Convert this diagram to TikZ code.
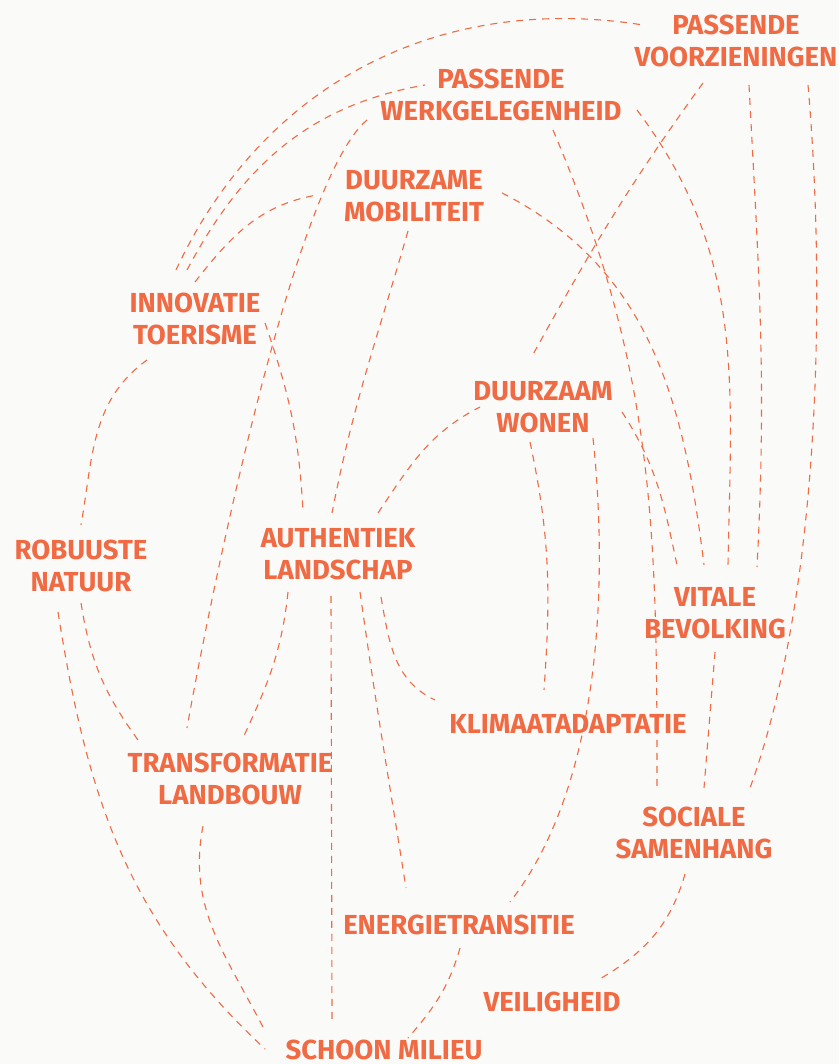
\documentclass[tikz,border=0pt]{standalone}
\usepackage{fontspec}
\setmainfont{Fira Sans}
\usetikzlibrary{backgrounds}
\definecolor{oranje}{RGB}{240,106,68}
\definecolor{papier}{RGB}{250,250,248}
\tikzstyle{thema} = [text=oranje, font=\fontsize{27.5}{32}\selectfont\bfseries, align=center, inner sep=0pt]
\tikzstyle{link} = [draw=oranje, line width=1.1pt, dash pattern=on 7pt off 6pt]

\begin{document}
\begin{tikzpicture}[x=1pt, y=1pt]

\fill [papier] (0,0) rectangle (839,1064);
\useasboundingbox (0,0) rectangle (839,1064);

\node (voorz) [thema] at (736,1023) {PASSENDE\\VOORZIENINGEN};
\node (werk) [thema] at (501,969) {PASSENDE\\WERKGELEGENHEID};
\node (mob) [thema] at (414,868) {DUURZAME\\MOBILITEIT};
\node (innov) [thema] at (195,745) {INNOVATIE\\TOERISME};
\node (wonen) [thema] at (543,657) {DUURZAAM\\WONEN};
\node (natuur) [thema] at (81,498) {ROBUUSTE\\NATUUR};
\node (auth) [thema] at (338,510) {AUTHENTIEK\\LANDSCHAP};
\node (vitale) [thema] at (715,451) {VITALE\\BEVOLKING};
\node (klimaat) [thema] at (568,340) {KLIMAATADAPTATIE};
\node (transf) [thema] at (230,285) {TRANSFORMATIE\\LANDBOUW};
\node (sociale) [thema] at (694,231) {SOCIALE\\SAMENHANG};
\node (energie) [thema] at (459,139) {ENERGIETRANSITIE};
\node (veilig) [thema] at (552,62) {VEILIGHEID};
\node (schoon) [thema] at (384,14) {SCHOON MILIEU};

\draw [link] ([shift={(-19,49)}]innov.center) to[out=65,in=171] ([shift={(-93,16)}]voorz.center);
\draw [link] ([shift={(-8,49)}]innov.center) to[out=62,in=190] ([shift={(-76,10)}]werk.center);
\draw [link] ([shift={(0,37)}]innov.center) to[out=52,in=190] ([shift={(-97,1)}]mob.center);
\draw [link] ([shift={(-48,-41)}]innov.center) to[out=216,in=80] ([shift={(0,41)}]natuur.center);
\draw [link] ([shift={(70,-4)}]innov.center) to[out=-71,in=93] ([shift={(-35,42)}]auth.center);
\draw [link] ([shift={(-134,-25)}]werk.center) to[out=220,in=80,looseness=0.4] ([shift={(-43,51)}]transf.center);
\draw [link] ([shift={(52,-35)}]werk.center) to[out=-67,in=90] ([shift={(-37,45)}]sociale.center);
\draw [link] ([shift={(136,-15)}]werk.center) to[out=-53,in=89] ([shift={(13,48)}]vitale.center);
\draw [link] ([shift={(-6,-35)}]mob.center) to[out=-106,in=79] ([shift={(-6,41)}]auth.center);
\draw [link] ([shift={(88,3)}]mob.center) to[out=-27,in=97] ([shift={(-11,48)}]vitale.center);
\draw [link] ([shift={(-33,-42)}]voorz.center) to[out=-126,in=61] ([shift={(-12,49)}]wonen.center);
\draw [link] ([shift={(13,-44)}]voorz.center) to[out=-87,in=87] ([shift={(42,46)}]vitale.center);
\draw [link] ([shift={(72,-44)}]voorz.center) to[out=-85,in=70,looseness=0.75] ([shift={(56,45)}]sociale.center);
\draw [link] ([shift={(40,41)}]auth.center) to[out=56,in=207] ([shift={(-63,0)}]wonen.center);
\draw [link] ([shift={(-50,-38)}]auth.center) to[out=-96,in=65] ([shift={(12,39)}]transf.center);
\draw [link] ([shift={(-7,-42)}]auth.center) -- ([shift={(-52,28)}]schoon.center);
\draw [link] ([shift={(22,-38)}]auth.center) to[out=-82,in=99] ([shift={(-53,37)}]energie.center);
\draw [link] ([shift={(43,-43)}]auth.center) to[out=-80,in=155] ([shift={(-133,24)}]klimaat.center);
\draw [link] ([shift={(-23,-46)}]natuur.center) to[out=-81,in=137] ([shift={(-119,1)}]schoon.center);
\draw [link] ([shift={(0,-37)}]natuur.center) to[out=-81,in=126] ([shift={(-92,39)}]transf.center);
\draw [link] ([shift={(-27,-47)}]transf.center) to[out=-101,in=117] ([shift={(-119,19)}]schoon.center);
\draw [link] ([shift={(79,-5)}]wonen.center) to[out=-57,in=102] ([shift={(-38,48)}]vitale.center);
\draw [link] ([shift={(-13,-35)}]wonen.center) to[out=-78,in=86] ([shift={(-24,34)}]klimaat.center);
\draw [link] ([shift={(50,-31)}]wonen.center) to[out=-84,in=52,looseness=0.8] ([shift={(51,23)}]energie.center);
\draw [link] ([shift={(0,-39)}]vitale.center) -- ([shift={(10,45)}]sociale.center);
\draw [link] ([shift={(-9,-41)}]sociale.center) to[out=-106,in=30] ([shift={(46,22)}]veilig.center);
\draw [link] ([shift={(1,-23)}]energie.center) to[out=-106,in=49] ([shift={(24,12)}]schoon.center);

\end{tikzpicture}
\end{document}
